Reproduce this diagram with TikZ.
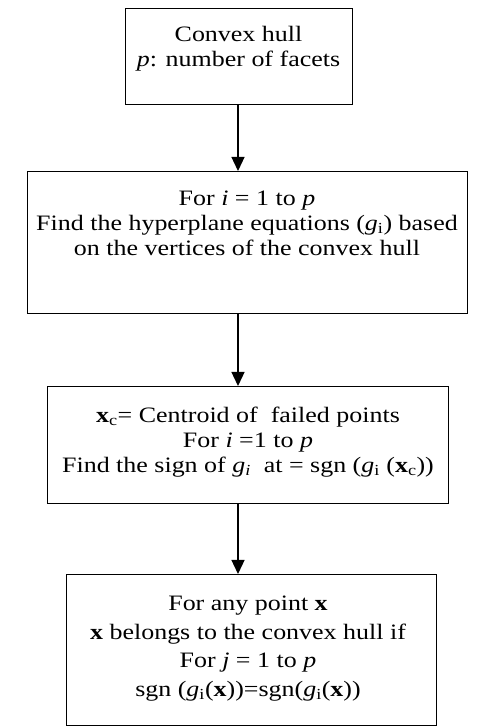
\documentclass[tikz,border=0pt]{standalone}
\usepackage{fontspec}
\setmainfont[FakeStretch=1.18]{Liberation Serif}
\usetikzlibrary{arrows.meta}
\tikzset{
  boxnode/.style={draw, line width=1.3pt, rectangle, inner sep=0pt, anchor=north west},
  txt/.style={align=center, font=\fontsize{22}{25}\selectfont, inner sep=0pt, anchor=north},
  txtwide/.style={txt, font=\fontsize{22}{28.5}\selectfont},
  flow/.style={line width=1.3pt, -{Triangle[length=14pt,width=13pt]}}
}
\begin{document}
\begin{tikzpicture}[x=1pt,y=1pt]
\useasboundingbox (0,0) rectangle (478,727);
% boxes (y = 727 - pixel row)
\node[boxnode, minimum width=227pt, minimum height=96pt] (b1) at (125,719) {};
\node[boxnode, minimum width=440pt, minimum height=142pt] (b2) at (27,556) {};
\node[boxnode, minimum width=401pt, minimum height=117pt] (b3) at (47,341) {};
\node[boxnode, minimum width=370pt, minimum height=151pt] (b4) at (66,153) {};
% texts
\node[txt] (t1) at (238.5,701) {Convex hull\\ \textit{p}: number of facets};
\node[txt] (t2) at (247,536) {For \textit{i} = 1 to \textit{p}\\ Find the hyperplane equations (\textit{g}\textsubscript{i}) based\\ on the vertices of the convex hull};
\node[txt] (t3) at (248,320) {\textbf{x}\textsubscript{c}= Centroid of\ \ failed points\\ For \textit{i} =1 to \textit{p}\\ Find the sign of \textit{g\textsubscript{i}}\ \ at = sgn (\textit{g}\textsubscript{i} (\textbf{x}\textsubscript{c}))};
\node[txtwide] (t4) at (248,131) {For any point \textbf{x}\\ \textbf{x} belongs to the convex hull if\\ For \textit{j} = 1 to \textit{p}\\ sgn (\textit{g}\textsubscript{i}(\textbf{x}))=sgn(\textit{g}\textsubscript{i}(\textbf{x}))};
% arrows
\coordinate (ax) at (238,0);
\draw[flow] (b1.south -| ax) -- (b2.north -| ax);
\draw[flow] (b2.south -| ax) -- (b3.north -| ax);
\draw[flow] (b3.south -| ax) -- (b4.north -| ax);
\end{tikzpicture}
\end{document}
